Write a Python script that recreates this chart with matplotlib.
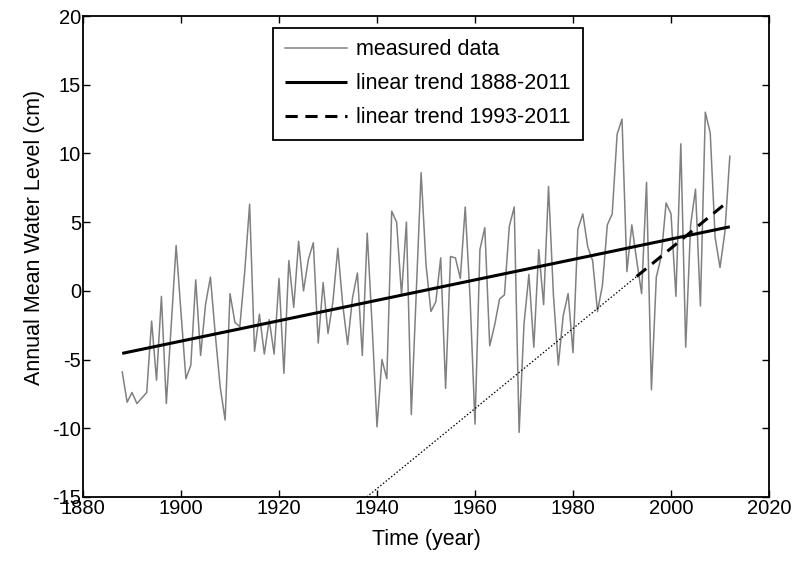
"""
Annual mean water level with long-term and recent linear trends.
"""

import numpy as np
import matplotlib
matplotlib.use("Agg")
import matplotlib.pyplot as plt

# annual mean water level (cm), one value per year from 1888 to 2012
years = np.arange(1888, 2013)
level = [
    -5.9, -8.1, -7.4, -8.2, -7.8, -7.4, -2.2, -6.5, -0.4, -8.2,
    -2.5, 3.3, -1.6, -6.4, -5.4, 0.8, -4.7, -1.0, 1.0, -3.2,
    -7.0, -9.4, -0.2, -2.3, -2.6, 1.4, 6.3, -4.4, -1.7, -4.6,
    -2.1, -4.6, 0.9, -6.0, 2.2, -1.2, 3.6, 0.0, 2.3, 3.5,
    -3.8, 0.6, -3.1, -0.8, 3.1, -1.0, -3.9, -0.5, 1.3, -4.7,
    4.2, -2.5, -9.9, -5.0, -6.4, 5.8, 5.0, -0.3, 5.0, -9.0,
    -0.2, 8.6, 1.9, -1.5, -0.8, 2.4, -7.1, 2.5, 2.4, 0.9,
    6.1, -0.6, -9.7, 3.0, 4.6, -4.0, -2.5, -0.6, -0.3, 4.7,
    6.1, -10.3, -2.4, 1.2, -4.1, 3.0, -1.0, 7.6, -0.3, -5.4,
    -1.8, -0.2, -4.5, 4.5, 5.6, 3.2, 2.2, -1.5, 0.4, 4.8,
    5.6, 11.4, 12.5, 1.4, 4.8, 2.2, -0.2, 7.9, -7.2, 1.0,
    2.5, 6.4, 5.6, -0.4, 10.7, -4.1, 4.8, 7.4, -1.1, 13.0,
    11.5, 3.9, 1.7, 4.3, 9.8,
]

# trend lines, end points
trend_long_years = [1888, 2012]
trend_long_level = [-4.55, 4.66]
trend_recent_years = [1993, 2011]
trend_recent_level = [1.05, 6.32]
# backward extension of the recent trend
extension_years = [1937.9, 1993]
extension_level = [-15.0, 1.05]

x_ticks = [1880, 1900, 1920, 1940, 1960, 1980, 2000, 2020]
y_ticks = [-15, -10, -5, 0, 5, 10, 15, 20]

plt.rcParams["font.family"] = ["Liberation Sans", "DejaVu Sans"]
plt.rcParams["axes.unicode_minus"] = False


def plot_water_level():
    """
    Draw measured data and trends.
    """

    fig = plt.figure(figsize=(7.96, 5.62), dpi=100)
    ax = fig.add_axes([0.1043, 0.1157, 0.8618, 0.8558])

    ax.plot(years, level, color="#808080", lw=1.1, label="measured data")

    ax.plot(
        trend_long_years,
        trend_long_level,
        color="black",
        lw=2.2,
        solid_capstyle="butt",
        label="linear trend 1888-2011"
    )

    ax.plot(
        trend_recent_years,
        trend_recent_level,
        color="black",
        lw=2.2,
        dashes=(4, 2.5),
        label="linear trend 1993-2011"
    )

    ax.plot(
        extension_years,
        extension_level,
        color="black",
        lw=0.9,
        linestyle=(0, (1.2, 1.6))
    )

    ax.set_xlim(1880, 2020)
    ax.set_ylim(-15, 20)
    ax.set_xticks(x_ticks)
    ax.set_yticks(y_ticks)

    ax.tick_params(
        direction="in",
        top=True,
        right=True,
        length=5,
        width=1,
        labelsize=14.5,
        pad=1.5
    )

    for spine in ax.spines.values():
        spine.set_linewidth(1.3)

    ax.set_xlabel("Time (year)", fontsize=15.5, labelpad=8)
    ax.set_ylabel("Annual Mean Water Level (cm)", fontsize=15.5)
    ax.yaxis.set_label_coords(-0.056, 0.54)

    leg = ax.legend(
        loc="upper left",
        bbox_to_anchor=(0.277, 0.976),
        fontsize=15.5,
        handlelength=2.9,
        handletextpad=0.42,
        labelspacing=0.6,
        borderpad=0.55,
        borderaxespad=0,
        fancybox=False,
        framealpha=1
    )
    leg.get_frame().set_edgecolor("black")
    leg.get_frame().set_linewidth(1.3)

    fig.savefig("out.png", dpi=100)
    plt.close(fig)


plot_water_level()
